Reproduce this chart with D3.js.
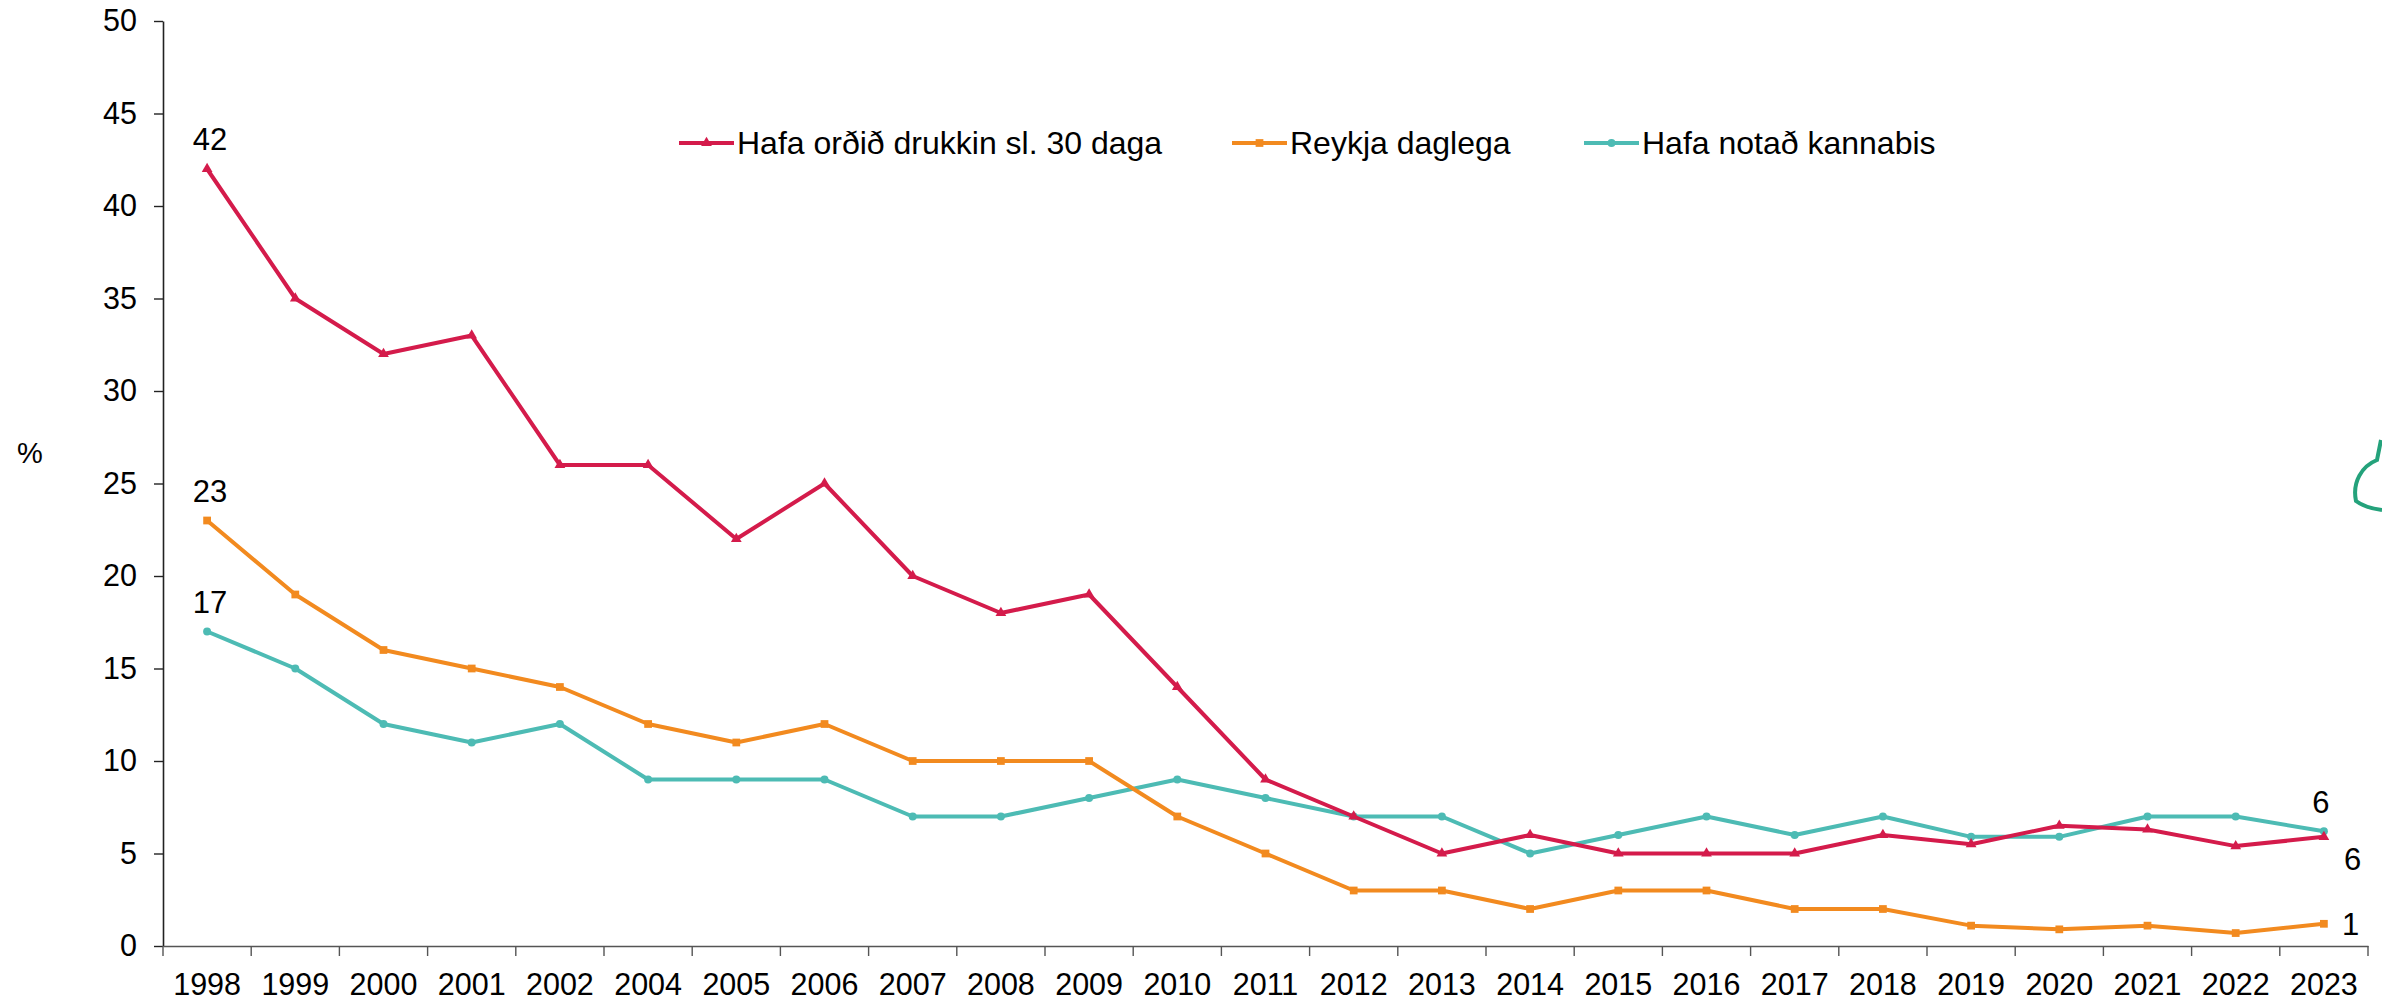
<!DOCTYPE html>
<html>
<head>
<meta charset="utf-8">
<script src="https://cdn.jsdelivr.net/npm/d3@7"></script>
<style>
  html, body { margin: 0; padding: 0; background: #fff; }
  svg { display: block; font-family: "Liberation Sans", Arial, sans-serif; }
</style>
</head>
<body>
<svg id="chart" width="2382" height="1002"></svg>
<script>
const years = ["1998","1999","2000","2001","2002","2004","2005","2006","2007","2008","2009","2010","2011","2012","2013","2014","2015","2016","2017","2018","2019","2020","2021","2022","2023"];
const drukkin = [42,35,32,33,26,26,22,25,20,18,19,14,9,7,5,6,5,5,5,6,5.5,6.5,6.3,5.4,5.9];
const reykja = [23,19,16,15,14,12,11,12,10,10,10,7,5,3,3,2,3,3,2,2,1.1,0.9,1.1,0.7,1.2];
const kannabis = [17,15,12,11,12,9,9,9,7,7,8,9,8,7,7,5,6,7,6,7,5.9,5.9,7,7,6.2];
const yTicks = [0,5,10,15,20,25,30,35,40,45,50];
const seriesNames = ["Hafa orðið drukkin sl. 30 daga","Reykja daglega","Hafa notað kannabis"];
const seriesColors = ["#d41b4b","#f28a1f","#4dbbb4"];
const seriesSymbols = [d3.symbolTriangle, d3.symbolSquare, d3.symbolCircle];
const startLabels = ["42","23","17"];
const endLabels = ["6","1","6"];

const svg = d3.select("#chart");
const x = d3.scaleBand().domain(years).range([163, 2368]).padding(0);
const y = d3.scaleLinear().domain([0, 50]).range([946, 21]);
const cx = d => x(d) + x.bandwidth() / 2;
const FS = 30.5;

// Y axis
const yAxis = svg.append("g").attr("transform", `translate(${x.range()[0]},0)`)
  .call(d3.axisLeft(y).tickValues(yTicks).tickSize(9).tickPadding(17).tickSizeOuter(0));
yAxis.select(".domain").attr("stroke", "#222").attr("stroke-width", 1.6);
yAxis.selectAll(".tick line").attr("stroke", "#222").attr("stroke-width", 1.4);
yAxis.selectAll("text").attr("font-size", FS).attr("fill", "#000").attr("font-family", "Liberation Sans, Arial, sans-serif");

// X axis
const xAxis = svg.append("g").attr("transform", `translate(0,${y(0)})`)
  .call(d3.axisBottom(x).tickSize(0).tickPadding(27).tickSizeOuter(0));
xAxis.select(".domain").attr("stroke", "#555").attr("stroke-width", 1.6);
xAxis.selectAll("text").attr("font-size", FS).attr("fill", "#000").attr("font-family", "Liberation Sans, Arial, sans-serif");
const edges = years.map(d => x(d)).concat([x.range()[1]]);
xAxis.selectAll(".edge").data(edges).enter().append("line")
  .attr("x1", d => d).attr("x2", d => d).attr("y1", 0).attr("y2", 10)
  .attr("stroke", "#555").attr("stroke-width", 1.4);

// % label
svg.append("text").attr("x", 30).attr("y", 455).attr("text-anchor", "middle")
  .attr("dominant-baseline", "middle").attr("font-size", 29).attr("fill", "#000").text("%");

const allSeries = [drukkin, reykja, kannabis];
const line = d3.line().x((d, i) => cx(years[i])).y(d => y(d));

[2, 1, 0].forEach(k => {
  const vals = allSeries[k];
  svg.append("path").datum(vals).attr("d", line)
    .attr("fill", "none").attr("stroke", seriesColors[k]).attr("stroke-width", 4)
    .attr("stroke-linejoin", "round");
  svg.append("g").selectAll("path").data(vals).enter().append("path")
    .attr("d", d3.symbol().type(seriesSymbols[k]).size(k === 1 ? 60 : 50))
    .attr("transform", (d, i) => `translate(${cx(years[i])},${y(d)})`)
    .attr("fill", seriesColors[k]);
});

// start labels
startLabels.forEach((t, k) => {
  svg.append("text").attr("x", cx(years[0]) + 3).attr("y", y(allSeries[k][0]) - 19)
    .attr("text-anchor", "middle").attr("font-size", 31).attr("fill", "#000").text(t);
});
// end labels
const last = years[years.length - 1];
svg.append("text").attr("x", cx(last) - 3).attr("y", y(kannabis[kannabis.length - 1]) - 18)
  .attr("text-anchor", "middle").attr("font-size", 31).attr("fill", "#000").text(endLabels[2]);
svg.append("text").attr("x", cx(last) + 20).attr("y", y(drukkin[drukkin.length - 1]) + 33)
  .attr("text-anchor", "start").attr("font-size", 31).attr("fill", "#000").text(endLabels[0]);
svg.append("text").attr("x", cx(last) + 18).attr("y", y(reykja[reykja.length - 1]) + 11)
  .attr("text-anchor", "start").attr("font-size", 31).attr("fill", "#000").text(endLabels[1]);

// Legend
const legendX = [679, 1232, 1584];
const legendY = 143;
seriesNames.forEach((name, k) => {
  const g = svg.append("g").attr("transform", `translate(${legendX[k]},${legendY})`);
  g.append("line").attr("x1", 0).attr("x2", 55).attr("y1", 0).attr("y2", 0)
    .attr("stroke", seriesColors[k]).attr("stroke-width", 4);
  g.append("path").attr("d", d3.symbol().type(seriesSymbols[k]).size(k === 1 ? 60 : 50))
    .attr("transform", "translate(27.5,0)").attr("fill", seriesColors[k]);
  g.append("text").attr("x", 58).attr("y", 0).attr("dominant-baseline", "central")
    .attr("font-size", 32).attr("fill", "#000").text(name);
});

// decorative green mark at right edge
svg.append("path")
  .attr("d", "M2381,440 L2377,460 C2362,466 2352,482 2356,501 C2364,507 2374,509 2382,510")
  .attr("fill", "none").attr("stroke", "#24a27b").attr("stroke-width", 4);
</script>
</body>
</html>
